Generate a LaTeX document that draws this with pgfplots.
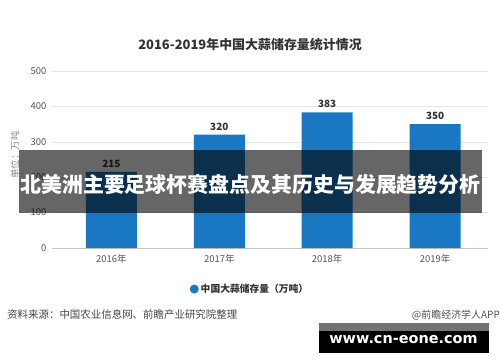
\documentclass[border=0pt]{standalone}
\usepackage{pgfplots}
\pgfplotsset{compat=1.18}
\usepackage{fontspec}
\setmainfont{Noto Sans CJK SC}
\newfontfamily\wwwfont{DejaVu Sans}
\definecolor{barblue}{HTML}{1A78C2}
\definecolor{tickgray}{HTML}{555555}
\definecolor{titlegray}{HTML}{333333}
\begin{document}
\begin{tikzpicture}[x=1bp,y=1bp]
\useasboundingbox (0,0) rectangle (500,362);
\fill[white] (0,0) rectangle (500,362);
\begin{axis}[at={(52bp,114bp)}, anchor=south west, scale only axis,
  width=436bp, height=177bp,
  ybar, bar width=51bp, xmin=-0.55, xmax=3.49, ymin=0, ymax=500,
  xtick={0,1,2,3}, xticklabels={2016年,2017年,2018年,2019年},
  ytick={0,100,200,300,400,500},
  axis x line*=bottom, axis y line*=left,
  y axis line style={draw=none},
  x axis line style={draw=black!22, line width=0.8pt, -},
  major tick length=0pt, ymajorgrids,
  grid style={draw=black!10, line width=0.6pt},
  tick label style={font=\fontsize{9.5}{10}\selectfont, text=tickgray},
  /pgf/number format/assume math mode=true,
  yticklabel style={xshift=-2bp},
  xticklabel style={yshift=-3bp},
  nodes near coords,
  nodes near coords style={font=\bfseries\fontsize{10}{10}\selectfont, text=titlegray, yshift=1bp},
  legend style={at={(0.454,-0.232)}, anchor=center, draw=none, fill=none,
    font=\bfseries\fontsize{9.8}{10}\selectfont, text=titlegray},
  legend image code/.code={\fill[barblue] (0bp,0bp) circle (4.5bp);},
  clip=false]
\addplot[fill=barblue, draw=none] coordinates {(0,215) (1,320) (2,383) (3,350)};
\legend{中国大蒜储存量（万吨）}
\end{axis}
\node[font=\bfseries\fontsize{13}{13}\selectfont, text=titlegray] at (250,317) {2016-2019年中国大蒜储存量统计情况};
\node[rotate=90, font=\fontsize{9.5}{10}\selectfont, text=black!45] at (15,207) {单位：万吨};
\node[anchor=west, inner sep=0pt, font=\fontsize{10.5}{11}\selectfont, text=black!72] at (7,47) {资料来源：中国农业信息网、前瞻产业研究院整理};
\node[anchor=east, inner sep=0pt, font=\fontsize{10}{11}\selectfont, text=black!68] at (500,47) {@前瞻经济学人APP};
% overlay banner
\fill[black, opacity=0.6] (19,149) rectangle (482,212);
\node[font=\bfseries\fontsize{21}{21}\selectfont, text=white] at (250.5,178) {北美洲主要足球杯赛盘点及其历史与发展趋势分析};
% www box
\fill[black!55] (319,31) rectangle (489,39);
\fill[black] (319,9) rectangle (489,31);
\node[font=\wwwfont\bfseries\fontsize{14.5}{15}\selectfont, text=white] at (403.5,22) {www.cn-eone.com};
\end{tikzpicture}
\end{document}
